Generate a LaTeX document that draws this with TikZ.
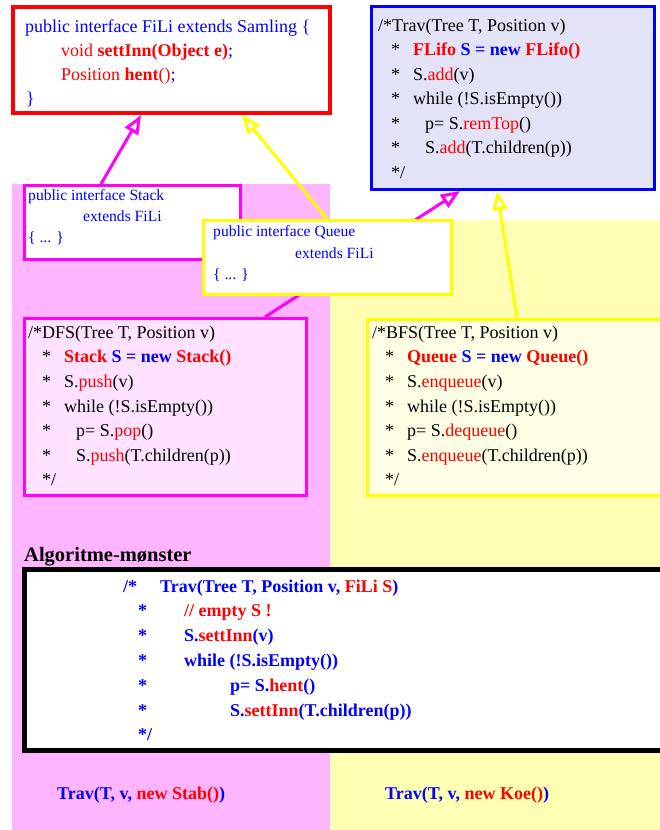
\documentclass[tikz,border=0pt]{standalone}
\usepackage{fontspec}
\setmainfont{Liberation Serif}
\usetikzlibrary{arrows.meta}
\definecolor{cb}{RGB}{0,0,255}
\definecolor{cr}{RGB}{255,0,0}
\definecolor{mag}{RGB}{255,0,255}
\definecolor{yel}{RGB}{255,255,0}
\definecolor{pinkbg}{RGB}{255,180,255}
\definecolor{yelbg}{RGB}{255,255,180}
\definecolor{lavfill}{RGB}{227,227,248}
\definecolor{pinkfill}{RGB}{255,226,255}
\definecolor{yelfill}{RGB}{255,255,230}
\newcommand\ind[1]{\hspace*{#1pt}}
\newcommand\st[2]{\makebox[#1pt][l]{#2}}
\begin{document}
\begin{tikzpicture}[x=1pt,y=-1pt,
  box/.style={draw, inner sep=0pt, anchor=north west},
  code/.style={anchor=north west, inner sep=0pt, align=left},
  inh/.style={line width=3pt, -{Triangle[open, length=19pt, width=15pt]}}]
\useasboundingbox (0,0) rectangle (660,830);
\clip (0,0) rectangle (660,830);

% coloured backgrounds
\fill[pinkbg] (12,184) rectangle (330,830);
\fill[yelbg] (330,220) rectangle (660,830);

% FiLi interface
\node[box, draw=cr, line width=4pt, fill=white, minimum width=317pt, minimum height=106pt] (fili) at (11,5) {};
\node[code, text=cb, font=\fontsize{18}{24}\selectfont] (fili-txt) at (25,15.2)
 {\strut public interface FiLi extends Samling \{\\
  \ind{36}\textcolor{cr}{void \textbf{settInn(Object e)}};\\
  \ind{36}\textcolor{cr}{Position \textbf{hent}()};\\
  \ind{1}\}};

% generic traversal with FLifo
\node[box, draw=cb, line width=3pt, fill=lavfill, minimum width=283pt, minimum height=183pt] (trav) at (370,5) {};
\node[code, font=\fontsize{18}{24.5}\selectfont] (trav-txt) at (378,13.85)
 {\strut /*Trav(Tree T, Position v)\\
  \ind{13}\st{22}{*}\textbf{\textcolor{cr}{FLifo} \textcolor{cb}{S = new} \textcolor{cr}{FLifo()}}\\
  \ind{13}\st{22}{*}S.\textcolor{cr}{add}(v)\\
  \ind{13}\st{22}{*}while (!S.isEmpty())\\
  \ind{13}\st{34}{*}p= S.\textcolor{cr}{remTop}()\\
  \ind{13}\st{34}{*}S.\textcolor{cr}{add}(T.children(p))\\
  \ind{13}*/};

% DFS -> Trav (passes behind the Queue box)
\node[box, draw=mag, line width=3pt, fill=pinkfill, minimum width=282pt, minimum height=177pt] (dfs) at (23,317) {};
\draw[inh, mag] ([xshift=242pt]dfs.north west) -- ([xshift=90pt]trav.south west);

% Stack and Queue interfaces
\node[box, draw=mag, line width=3pt, fill=white, minimum width=216pt, minimum height=74pt] (stack) at (23,184) {};
\node[code, text=cb, font=\fontsize{15.6}{21}\selectfont] (stack-txt) at (28,186)
 {\strut public interface Stack\\
  \ind{55}extends FiLi\\
  \{ ... \}};
\node[box, draw=yel, line width=3pt, fill=white, minimum width=248pt, minimum height=74pt] (queue) at (202,219) {};
\node[code, text=cb, font=\fontsize{15.6}{21.2}\selectfont] (queue-txt) at (213,221.9)
 {\strut public interface Queue\\
  \ind{82}extends FiLi\\
  \{ ... \}};

\draw[inh, mag] ([xshift=78pt]stack.north west) -- ([xshift=130pt]fili.south west);
\draw[inh, yel] ([xshift=125pt]queue.north west) -- ([xshift=231pt]fili.south west);

% DFS text
\node[code, font=\fontsize{18}{24.6}\selectfont] (dfs-txt) at (28,320.8)
 {\strut /*DFS(Tree T, Position v)\\
  \ind{14}\st{22}{*}\textbf{\textcolor{cr}{Stack} \textcolor{cb}{S = new} \textcolor{cr}{Stack()}}\\
  \ind{14}\st{22}{*}S.\textcolor{cr}{push}(v)\\
  \ind{14}\st{22}{*}while (!S.isEmpty())\\
  \ind{14}\st{34}{*}p= S.\textcolor{cr}{pop}()\\
  \ind{14}\st{34}{*}S.\textcolor{cr}{push}(T.children(p))\\
  \ind{14}*/};

% BFS
\node[box, draw=yel, line width=3pt, fill=yelfill, minimum width=300pt, minimum height=176pt] (bfs) at (366,318) {};
\node[code, font=\fontsize{18}{24.6}\selectfont] (bfs-txt) at (372,320.8)
 {\strut /*BFS(Tree T, Position v)\\
  \ind{13}\st{22}{*}\textbf{\textcolor{cr}{Queue} \textcolor{cb}{S = new} \textcolor{cr}{Queue()}}\\
  \ind{13}\st{22}{*}S.\textcolor{cr}{enqueue}(v)\\
  \ind{13}\st{22}{*}while (!S.isEmpty())\\
  \ind{13}\st{22}{*}p= S.\textcolor{cr}{dequeue}()\\
  \ind{13}\st{22}{*}S.\textcolor{cr}{enqueue}(T.children(p))\\
  \ind{13}*/};
\draw[inh, yel] ([xshift=151pt]bfs.north west) -- ([xshift=127pt]trav.south west);

% algorithm pattern
\node[anchor=base west, inner sep=0pt, font=\fontsize{20.5}{24}\selectfont\bfseries] (algo-title) at (24,561) {Algoritme-mønster};
\node[box, draw=black, line width=5pt, fill=white, minimum width=660pt, minimum height=181pt] (algo) at (22,567) {};
\node[code, text=cb, font=\fontsize{18}{24.8}\selectfont\bfseries] (algo-txt) at (123,574.6)
 {\strut \st{37}{/*}Trav(Tree T, Position v, \textcolor{cr}{FiLi S})\\
  \ind{15}\st{46}{*}\textcolor{cr}{// empty S !}\\
  \ind{15}\st{46}{*}S.\textcolor{cr}{settInn}(v)\\
  \ind{15}\st{46}{*}while (!S.isEmpty())\\
  \ind{15}\st{92}{*}p= S.\textcolor{cr}{hent}()\\
  \ind{15}\st{92}{*}S.\textcolor{cr}{settInn}(T.children(p))\\
  \ind{15}*/};

% calls
\node[anchor=base west, inner sep=0pt, text=cb, font=\fontsize{18}{22}\selectfont\bfseries] (call-stab) at (57,799)
 {Trav(T, v, \textcolor{cr}{new Stab()})};
\node[anchor=base west, inner sep=0pt, text=cb, font=\fontsize{18}{22}\selectfont\bfseries] (call-koe) at (385,799)
 {Trav(T, v, \textcolor{cr}{new Koe()})};
\end{tikzpicture}
\end{document}
